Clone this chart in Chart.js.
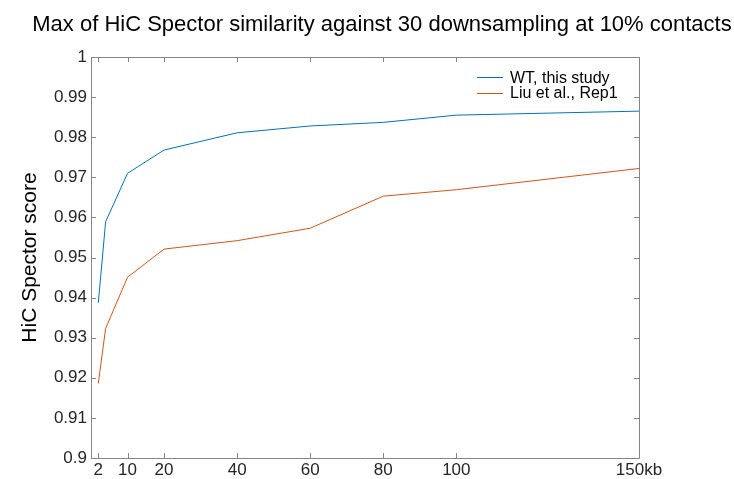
<!DOCTYPE html>
<html>
<head>
<meta charset="utf-8">
<script src="https://cdn.jsdelivr.net/npm/chart.js@4.4.1/dist/chart.umd.min.js"></script>
<style>
  html, body { margin: 0; padding: 0; background: #fff; }
  #wrap { width: 734px; height: 479px; }
</style>
</head>
<body>
<div id="wrap"><canvas id="chart" width="734" height="479"></canvas></div>
<script>
// Resolution (kb) and scores
const resolutions = [2, 4, 10, 20, 40, 60, 80, 100, 150];
const wtScores = [0.9387, 0.9589, 0.9710, 0.9768, 0.9811, 0.9828, 0.9837, 0.9855, 0.9865];
const liuScores = [0.9186, 0.9323, 0.9451, 0.9521, 0.9542, 0.9573, 0.9653, 0.9669, 0.9722];

const xTickValues = [2, 10, 20, 40, 60, 80, 100, 150];
const yTickValues = [0.9, 0.91, 0.92, 0.93, 0.94, 0.95, 0.96, 0.97, 0.98, 0.99, 1];

const seriesNames = ['WT, this study', 'Liu et al., Rep1'];
const seriesColors = ['#0072BD', '#D95319'];
const chartTitle = 'Max of HiC Spector similarity against 30 downsampling at 10% contacts';

const FONT = 'Liberation Sans, Arial, Helvetica, sans-serif';
const AXIS_COLOR = '#858585';
const TEXT_COLOR = '#262626';

// draws the boxed axes with inward ticks (matlab style), title and legend
const matlabFrame = {
    id: 'matlabFrame',
    afterDraw(chart) {
        const ctx = chart.ctx;
        const area = chart.chartArea;
        const xs = chart.scales.x;
        const ys = chart.scales.y;
        const tl = 5;

        ctx.save();
        ctx.strokeStyle = AXIS_COLOR;
        ctx.lineWidth = 1;
        ctx.beginPath();
        ctx.rect(Math.round(area.left) + 0.5, Math.round(area.top) + 0.5,
                 Math.round(area.right - area.left), Math.round(area.bottom - area.top));
        xTickValues.forEach(v => {
            const px = Math.round(xs.getPixelForValue(v)) + 0.5;
            ctx.moveTo(px, area.bottom);
            ctx.lineTo(px, area.bottom - tl);
            ctx.moveTo(px, area.top);
            ctx.lineTo(px, area.top + tl);
        });
        yTickValues.forEach(v => {
            const py = Math.round(ys.getPixelForValue(v)) + 0.5;
            ctx.moveTo(area.left, py);
            ctx.lineTo(area.left + tl, py);
            ctx.moveTo(area.right, py);
            ctx.lineTo(area.right - tl, py);
        });
        ctx.stroke();

        // title
        ctx.fillStyle = '#000';
        ctx.font = '22px ' + FONT;
        ctx.textAlign = 'center';
        ctx.textBaseline = 'alphabetic';
        ctx.fillText(chartTitle, 382, 31);

        // legend
        ctx.font = '16px ' + FONT;
        ctx.textAlign = 'left';
        seriesNames.forEach((name, i) => {
            const y = 77 + i * 16;
            ctx.strokeStyle = seriesColors[i];
            ctx.beginPath();
            ctx.moveTo(477, y + 0.5);
            ctx.lineTo(503, y + 0.5);
            ctx.stroke();
            ctx.fillStyle = '#000';
            ctx.fillText(name, 510, 83 + i * 15);
        });
        ctx.restore();
    }
};

const ctx = document.getElementById('chart').getContext('2d');
new Chart(ctx, {
    type: 'line',
    data: {
        datasets: [
            {
                label: seriesNames[0],
                data: resolutions.map((r, i) => ({ x: r, y: wtScores[i] })),
                borderColor: seriesColors[0],
                borderWidth: 1,
                pointRadius: 0,
                tension: 0,
                fill: false
            },
            {
                label: seriesNames[1],
                data: resolutions.map((r, i) => ({ x: r, y: liuScores[i] })),
                borderColor: seriesColors[1],
                borderWidth: 1,
                pointRadius: 0,
                tension: 0,
                fill: false
            }
        ]
    },
    plugins: [matlabFrame],
    options: {
        responsive: false,
        animation: false,
        layout: {
            padding: { left: 0, right: 95, top: 57, bottom: 0 }
        },
        plugins: {
            legend: { display: false },
            title: { display: false },
            tooltip: { enabled: false }
        },
        scales: {
            x: {
                type: 'linear',
                min: 0,
                max: 150,
                grid: { display: false, drawTicks: false, tickLength: 0 },
                border: { display: false },
                afterBuildTicks: scale => {
                    scale.ticks = xTickValues.map(v => ({ value: v }));
                },
                afterFit: scale => { scale.height = 21; },
                ticks: {
                    autoSkip: false,
                    maxRotation: 0,
                    padding: 2,
                    color: TEXT_COLOR,
                    font: { family: FONT, size: 17 },
                    callback: v => v === 150 ? '150kb' : String(v)
                }
            },
            y: {
                type: 'linear',
                min: 0.9,
                max: 1,
                grid: { display: false, drawTicks: false, tickLength: 0 },
                border: { display: false },
                afterBuildTicks: scale => {
                    scale.ticks = yTickValues.map(v => ({ value: v }));
                },
                afterFit: scale => { scale.width = 91; },
                title: {
                    display: true,
                    text: 'HiC Spector score',
                    color: '#000',
                    font: { family: FONT, size: 21 },
                    padding: { top: 18, bottom: 0 }
                },
                ticks: {
                    autoSkip: false,
                    padding: 4,
                    color: TEXT_COLOR,
                    font: { family: FONT, size: 17 },
                    callback: v => String(parseFloat(v.toFixed(2)))
                }
            }
        }
    }
});
</script>
</body>
</html>
